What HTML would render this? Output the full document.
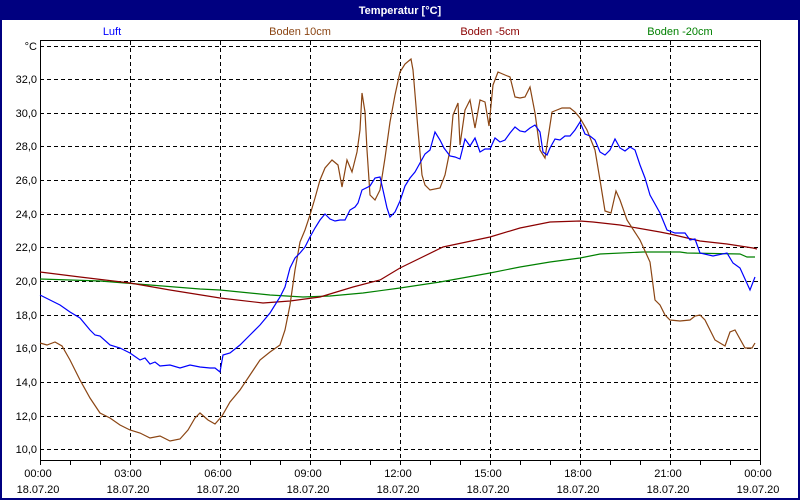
<!DOCTYPE html>
<html><head><meta charset="utf-8"><style>
body{margin:0;background:#fff;}
svg{display:block;font-family:"Liberation Sans",sans-serif;font-size:11px;}
</style></head><body>
<svg width="800" height="500" viewBox="0 0 800 500" xmlns="http://www.w3.org/2000/svg">
<rect x="0" y="0" width="800" height="500" fill="#000080"/>
<rect x="2" y="20" width="796" height="478" fill="#fff"/>
<text x="400" y="14" fill="#fff" font-weight="bold" text-anchor="middle">Temperatur [°C]</text>
<g text-anchor="middle">
<text x="112" y="35" fill="#0000ff">Luft</text>
<text x="300" y="35" fill="#8b4513">Boden 10cm</text>
<text x="490" y="35" fill="#8b0000">Boden -5cm</text>
<text x="680" y="35" fill="#008000">Boden -20cm</text>
</g>
<g stroke="#000" stroke-dasharray="4,3" stroke-width="1">
<line x1="40" y1="46.5" x2="758" y2="46.5"/>
<line x1="40" y1="79.5" x2="758" y2="79.5"/>
<line x1="40" y1="113.5" x2="758" y2="113.5"/>
<line x1="40" y1="146.5" x2="758" y2="146.5"/>
<line x1="40" y1="180.5" x2="758" y2="180.5"/>
<line x1="40" y1="214.5" x2="758" y2="214.5"/>
<line x1="40" y1="247.5" x2="758" y2="247.5"/>
<line x1="40" y1="281.5" x2="758" y2="281.5"/>
<line x1="40" y1="315.5" x2="758" y2="315.5"/>
<line x1="40" y1="348.5" x2="758" y2="348.5"/>
<line x1="40" y1="382.5" x2="758" y2="382.5"/>
<line x1="40" y1="416.5" x2="758" y2="416.5"/>
<line x1="40" y1="449.5" x2="758" y2="449.5"/>
<line x1="130.5" y1="41" x2="130.5" y2="460"/>
<line x1="220.5" y1="41" x2="220.5" y2="460"/>
<line x1="310.5" y1="41" x2="310.5" y2="460"/>
<line x1="400.5" y1="41" x2="400.5" y2="460"/>
<line x1="490.5" y1="41" x2="490.5" y2="460"/>
<line x1="580.5" y1="41" x2="580.5" y2="460"/>
<line x1="670.5" y1="41" x2="670.5" y2="460"/>
</g>
<g stroke="#000" stroke-width="1" fill="none">
<polyline points="40.5,460 40.5,40.5 760.5,40.5 760.5,460.5 40,460.5"/>
<path d="M70.5,461v4M100.5,461v4M130.5,461v4M160.5,461v4M190.5,461v4M220.5,461v4M250.5,461v4M280.5,461v4M310.5,461v4M340.5,461v4M370.5,461v4M400.5,461v4M430.5,461v4M460.5,461v4M490.5,461v4M520.5,461v4M550.5,461v4M580.5,461v4M610.5,461v4M640.5,461v4M670.5,461v4M700.5,461v4M730.5,461v4M760.5,461v4M40.5,461v4"/>
</g>
<g text-anchor="end" fill="#000">
<text x="37" y="50">°C</text>
<text x="37" y="83">32,0</text>
<text x="37" y="117">30,0</text>
<text x="37" y="150">28,0</text>
<text x="37" y="184">26,0</text>
<text x="37" y="218">24,0</text>
<text x="37" y="251">22,0</text>
<text x="37" y="285">20,0</text>
<text x="37" y="319">18,0</text>
<text x="37" y="352">16,0</text>
<text x="37" y="386">14,0</text>
<text x="37" y="420">12,0</text>
<text x="37" y="453">10,0</text>
</g>
<g text-anchor="middle" fill="#000">
<text x="38" y="477">00:00</text><text x="38" y="493">18.07.20</text>
<text x="128" y="477">03:00</text><text x="128" y="493">18.07.20</text>
<text x="218" y="477">06:00</text><text x="218" y="493">18.07.20</text>
<text x="308" y="477">09:00</text><text x="308" y="493">18.07.20</text>
<text x="398" y="477">12:00</text><text x="398" y="493">18.07.20</text>
<text x="488" y="477">15:00</text><text x="488" y="493">18.07.20</text>
<text x="578" y="477">18:00</text><text x="578" y="493">18.07.20</text>
<text x="668" y="477">21:00</text><text x="668" y="493">18.07.20</text>
<text x="758" y="477">00:00</text><text x="758" y="493">19.07.20</text>
</g>
<g fill="none" stroke-width="1.2">
<polyline stroke="#008000" points="40,279 100,281 150,285 200,289 220,290 270,295 303,297 330,296 363,293 400,288 440,282 490,273 520,267 550,262 580,258 600,254 643,252 680,252 687,253 740,254 747,257 755,257"/>
<polyline stroke="#8b0000" points="40,272 80,277 130,283 170,290 220,298 263,303 290,301 320,297 353,287 380,280 400,268 443,247 490,237 520,228 550,222 580,221 593,222 620,225 660,232 670,234 700,241 727,244 753,248 757,249"/>
<polyline stroke="#8b4513" points="40,343 47,345 55,342 62,346 70,360 80,380 90,398 100,413 110,418 120,425 130,430 140,433 150,438 160,436 170,441 180,439 188,430 195,418 200,413 208,420 215,424 222,416 230,402 240,390 250,375 260,360 270,352 280,345 285,330 290,305 295,270 300,242 305,230 310,215 315,198 320,180 325,168 332,160 338,165 342,187 347,160 352,172 357,152 360,130 362,93 365,112 367,150 370,195 375,200 380,190 385,158 390,122 395,95 400,72 405,64 411,59 413,70 418,130 422,175 425,185 430,190 440,188 445,175 450,150 453,115 458,103 460,145 465,110 470,100 475,128 480,100 485,102 489,126 493,85 498,72 505,75 510,77 515,97 520,98 525,97 530,87 535,113 540,150 545,158 552,112 562,108 570,108 575,112 580,118 587,130 595,150 600,180 605,211 611,213 616,191 620,200 627,220 640,240 650,262 655,300 660,305 665,315 670,320 680,321 690,320 695,316 700,315 705,320 715,340 725,346 730,332 735,330 745,348 752,348 755,343"/>
<polyline stroke="#0000ff" points="40,295 50,300 60,305 70,312 80,318 90,330 95,335 100,336 110,345 120,348 130,353 140,360 145,358 150,364 155,362 160,366 170,365 180,368 190,365 200,367 210,368 215,368 220,372 223,355 230,353 240,345 250,335 260,325 270,313 280,297 285,287 290,268 295,258 300,253 305,247 310,237 315,228 320,220 325,214 330,219 335,221 340,220 345,220 350,210 355,207 358,203 362,190 370,186 375,178 380,177 383,190 387,208 390,217 395,212 400,201 405,186 410,178 415,172 420,163 425,154 430,150 435,132 440,140 444,148 450,156 455,157 460,159 465,139 470,146 475,138 480,152 485,149 490,149 495,138 500,142 505,140 510,133 515,127 520,131 525,132 530,128 535,125 540,132 543,152 547,155 550,148 555,139 560,140 565,136 570,136 575,130 580,122 585,134 590,136 595,140 600,152 605,155 610,150 615,139 620,148 625,151 630,147 635,150 640,165 645,178 650,195 660,213 667,230 675,233 685,233 690,240 695,239 700,253 713,256 727,253 733,263 740,268 750,290 755,277"/>
</g>
</svg>
</body></html>
